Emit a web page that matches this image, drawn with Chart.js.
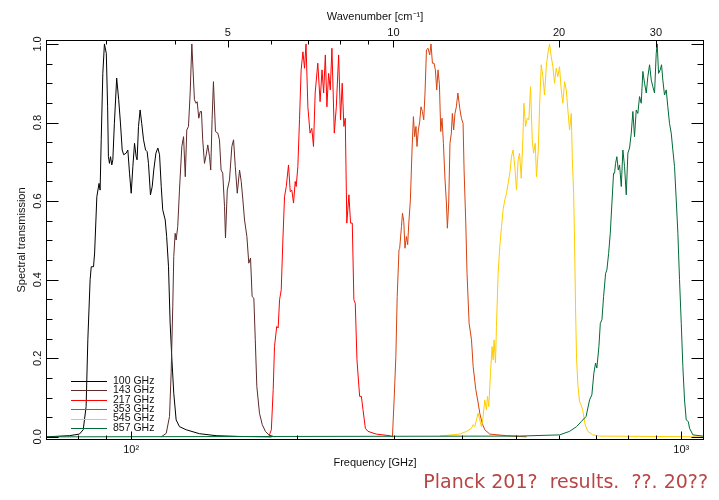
<!DOCTYPE html>
<html>
<head>
<meta charset="utf-8">
<title>HFI spectral transmission</title>
<script src="https://cdn.jsdelivr.net/npm/chart.js@4.4.1/dist/chart.umd.min.js"></script>
<style>
  html, body { margin: 0; padding: 0; background: #fff; }
  #wrap { width: 719px; height: 500px; }
</style>
</head>
<body>
<div id="wrap"><canvas id="bands" width="719" height="500"></canvas></div>
<script>
// channels and line colours
const bandNames = ['100 GHz', '143 GHz', '217 GHz', '353 GHz', '545 GHz', '857 GHz'];
const bandColors = ['#000000', '#5e2a2a', '#ff0000', '#d5420f', '#ffcc00', '#006a35'];

// frequency [GHz] / normalised transmission for each channel
const freq100 = [70, 77.2, 80.5, 81.8, 82.8, 83.4, 84.2, 84.6, 85.4, 85.8, 86.6, 87.4, 87.8, 88.2, 88.8, 89.4, 90.1, 90.6, 90.9, 91.3, 91.7, 92.2, 92.6, 93.2, 94.1, 94.9, 95.6, 96.3, 96.9, 97.9, 98.6, 99.3, 100.0, 100.7, 101.4, 102.1, 102.5, 103.1, 103.8, 104.5, 105.3, 106.2, 106.9, 107.5, 108.4, 109.2, 109.9, 110.9, 111.8, 112.6, 113.4, 114.1, 115.3, 116.0, 116.9, 117.7, 118.5, 119.5, 120.7, 122.4, 125.9, 133.1, 142.7, 157.4, 180];
const trans100 = [0, 0.003, 0.007, 0.018, 0.077, 0.247, 0.40, 0.433, 0.433, 0.468, 0.611, 0.645, 0.628, 0.756, 0.925, 1.0, 0.976, 0.840, 0.713, 0.696, 0.713, 0.692, 0.705, 0.798, 0.913, 0.858, 0.799, 0.730, 0.718, 0.722, 0.730, 0.671, 0.620, 0.688, 0.747, 0.713, 0.705, 0.790, 0.832, 0.798, 0.756, 0.730, 0.726, 0.696, 0.616, 0.637, 0.679, 0.722, 0.735, 0.718, 0.637, 0.578, 0.552, 0.510, 0.433, 0.290, 0.204, 0.111, 0.043, 0.026, 0.018, 0.008, 0.003, 0.001, 0];

const freq143 = [113.4, 115.8, 117.4, 118.2, 119.0, 119.5, 120.2, 120.7, 121.5, 122.4, 123.6, 124.5, 125.4, 126.2, 127.1, 128.0, 128.9, 130.3, 131.2, 131.8, 132.7, 133.5, 134.2, 134.9, 135.9, 136.9, 137.8, 138.8, 139.5, 140.3, 141.1, 142.3, 143.7, 144.7, 145.7, 146.7, 147.8, 148.4, 149.5, 150.9, 152.4, 153.5, 154.6, 155.9, 157.4, 158.5, 159.6, 160.7, 162.3, 163.6, 164.8, 165.9, 167.1, 168.1, 169.2, 171.1, 173.1, 175.4, 177.9, 182.2];
const trans143 = [0, 0.009, 0.052, 0.163, 0.331, 0.459, 0.518, 0.501, 0.535, 0.628, 0.739, 0.764, 0.662, 0.781, 0.790, 0.875, 1.0, 0.858, 0.849, 0.853, 0.811, 0.828, 0.828, 0.756, 0.696, 0.718, 0.743, 0.713, 0.679, 0.807, 0.904, 0.777, 0.773, 0.756, 0.679, 0.671, 0.586, 0.506, 0.628, 0.654, 0.739, 0.756, 0.688, 0.620, 0.679, 0.650, 0.603, 0.552, 0.510, 0.442, 0.455, 0.357, 0.353, 0.247, 0.128, 0.060, 0.031, 0.014, 0.005, 0];

const freq217 = [177.9, 179.8, 181.2, 182.2, 183.9, 185.0, 186.1, 187.4, 188.7, 190.0, 191.4, 193.2, 194.6, 195.9, 197.3, 198.7, 199.5, 200.9, 202.3, 203.7, 205.2, 206.6, 207.9, 209.5, 211.4, 213.0, 214.5, 216.0, 218.4, 220.5, 222.3, 223.8, 225.4, 226.9, 228.5, 230.1, 231.7, 234.0, 236.0, 238.3, 240.2, 241.9, 243.6, 245.0, 246.6, 248.8, 250.5, 252.3, 254.0, 255.5, 257.3, 260.2, 262.1, 263.9, 266.5, 269.4, 279.0, 295.0, 299.0];
const trans217 = [0, 0.018, 0.120, 0.230, 0.281, 0.277, 0.349, 0.374, 0.501, 0.611, 0.637, 0.692, 0.624, 0.628, 0.595, 0.650, 0.637, 0.688, 0.807, 0.934, 0.980, 0.938, 1.0, 0.840, 0.773, 0.785, 0.739, 0.875, 0.951, 0.853, 0.934, 0.875, 0.972, 0.840, 0.925, 0.883, 0.989, 0.773, 0.840, 0.972, 0.807, 0.900, 0.790, 0.811, 0.544, 0.616, 0.544, 0.544, 0.349, 0.340, 0.196, 0.103, 0.103, 0.069, 0.022, 0.014, 0.007, 0.003, 0];

const freq353 = [298.5, 300.6, 302.8, 304.5, 306.8, 307.7, 310.0, 311.3, 313.0, 314.6, 316.5, 318.2, 319.5, 321.8, 324.0, 325.9, 327.6, 329.4, 330.8, 332.7, 334.6, 336.4, 338.4, 340.3, 342.1, 344.2, 346.5, 348.9, 350.8, 352.9, 355.3, 357.3, 359.3, 361.3, 363.4, 365.4, 367.4, 369.5, 372.0, 374.2, 375.7, 377.8, 379.8, 382.0, 383.6, 385.7, 387.8, 390.1, 392.6, 395.7, 398.4, 401.2, 402.9, 405.8, 407.9, 411.5, 415.6, 418.5, 423.2, 427.4, 430.3, 434.5, 439.4, 448.7, 481.2, 523.4];
const trans353 = [0, 0.094, 0.204, 0.357, 0.476, 0.480, 0.535, 0.569, 0.548, 0.480, 0.510, 0.489, 0.539, 0.603, 0.730, 0.815, 0.764, 0.790, 0.739, 0.781, 0.802, 0.840, 0.828, 0.807, 0.875, 0.985, 0.989, 0.972, 1.0, 0.951, 0.951, 0.934, 0.883, 0.934, 0.896, 0.777, 0.811, 0.747, 0.654, 0.595, 0.531, 0.595, 0.747, 0.773, 0.823, 0.781, 0.823, 0.840, 0.875, 0.836, 0.811, 0.798, 0.679, 0.544, 0.416, 0.289, 0.247, 0.179, 0.120, 0.086, 0.060, 0.035, 0.018, 0.007, 0.003, 0];

const freq545 = [363.8, 395.7, 407.2, 415.6, 418.5, 421.3, 424.3, 427.3, 430.3, 433.3, 436.4, 439.4, 442.5, 444.4, 446.8, 450.0, 453.0, 455.0, 456.8, 459.5, 461.4, 464.6, 467.9, 471.3, 474.4, 477.8, 481.2, 484.5, 487.9, 491.3, 494.6, 498.3, 501.8, 505.2, 508.2, 511.8, 515.3, 517.5, 521.2, 524.9, 528.4, 532.2, 535.9, 538.9, 542.7, 545.6, 549.6, 552.6, 556.5, 560.3, 564.3, 568.3, 572.2, 576.2, 580.3, 584.3, 588.4, 592.5, 596.6, 600.8, 605.1, 609.2, 613.6, 618.0, 622.2, 626.6, 631.1, 633.9, 637.4, 639.8, 642.4, 645.2, 648.9, 653.4, 658.1, 662.6, 669.1, 676.4, 690.5, 710.5, 1100];
const trans545 = [0.002, 0.007, 0.014, 0.022, 0.031, 0.026, 0.043, 0.060, 0.043, 0.026, 0.052, 0.094, 0.069, 0.103, 0.077, 0.162, 0.230, 0.196, 0.247, 0.188, 0.281, 0.416, 0.484, 0.535, 0.578, 0.603, 0.620, 0.645, 0.671, 0.713, 0.730, 0.688, 0.628, 0.705, 0.722, 0.658, 0.756, 0.849, 0.790, 0.811, 0.807, 0.891, 0.756, 0.722, 0.747, 0.662, 0.730, 0.840, 0.947, 0.917, 0.870, 0.942, 0.976, 1.0, 0.968, 0.942, 0.900, 0.938, 0.917, 0.942, 0.883, 0.849, 0.904, 0.883, 0.832, 0.781, 0.823, 0.705, 0.620, 0.501, 0.331, 0.200, 0.130, 0.090, 0.080, 0.065, 0.030, 0.014, 0.005, 0.002, 0];

const freq857 = [70, 508.2, 600.8, 626.6, 645.2, 658.1, 671.5, 681.3, 687.9, 693.7, 698.6, 702.4, 708.5, 712.7, 717.5, 722.5, 728.6, 732.6, 737.9, 743.0, 748.1, 753.3, 756.5, 759.6, 763.8, 768.3, 772.5, 778.0, 783.3, 788.8, 794.4, 799.8, 805.4, 811.2, 816.7, 822.4, 828.3, 833.9, 839.9, 845.8, 851.6, 857.6, 863.8, 869.6, 875.8, 882.1, 888.0, 894.3, 900.6, 904.4, 909.4, 915.9, 920.9, 925.9, 932.4, 939.1, 945.4, 952.1, 959.0, 965.5, 972.3, 979.3, 986.1, 992.9, 1000.1, 1006.8, 1013.9, 1021.2, 1030.0, 1035.4, 1049.9, 1094.6, 1100];
const trans857 = [0, 0.002, 0.005, 0.014, 0.026, 0.039, 0.052, 0.094, 0.107, 0.162, 0.188, 0.175, 0.230, 0.289, 0.298, 0.357, 0.416, 0.425, 0.467, 0.518, 0.595, 0.671, 0.671, 0.696, 0.713, 0.679, 0.692, 0.637, 0.730, 0.688, 0.616, 0.722, 0.735, 0.773, 0.828, 0.764, 0.832, 0.823, 0.866, 0.849, 0.930, 0.900, 0.875, 0.917, 0.947, 0.908, 0.891, 0.875, 0.976, 1.0, 0.925, 0.934, 0.947, 0.908, 0.870, 0.883, 0.840, 0.798, 0.773, 0.730, 0.688, 0.603, 0.518, 0.400, 0.289, 0.179, 0.094, 0.043, 0.039, 0.022, 0.005, 0.002, 0];

// axis ticks
const freqTicks = [80, 90, 100, 200, 300, 400, 500, 600, 700, 800, 900, 1000];
const freqMajor = [100, 1000];
const freqLabels = ['10²', '10³'];
const waveTicks = [3, 4, 5, 6, 7, 8, 9, 10, 20, 30];
const waveMajor = [5, 10, 20, 30];
const transTicks = [0, 0.2, 0.4, 0.6, 0.8, 1.0];

const GHZ_PER_WAVENUMBER = 29.9792458;
const fMin = 70, fMax = 1100;
const tMin = -0.008, tMax = 1.01;

const textFont = 'Liberation Sans, Arial, sans-serif';
const ink = '#111';

const freqs = [freq100, freq143, freq217, freq353, freq545, freq857];
const trans = [trans100, trans143, trans217, trans353, trans545, trans857];

const datasets = bandNames.map((name, i) => ({
  label: name,
  data: freqs[i].map((f, j) => ({ x: f, y: trans[i][j] })),
  borderColor: bandColors[i],
  borderWidth: 1,
  pointRadius: 0,
  tension: 0,
  fill: false,
  order: bandNames.length - i   // higher channels drawn over lower ones
}));

// IDL-style box: inward ticks on all four sides, legend and footer
const axisFrame = {
  id: 'axisFrame',
  afterDraw(chart) {
    const { ctx, chartArea: area } = chart;
    const sx = chart.scales.x, st = chart.scales.xTop, sy = chart.scales.y;
    const L = Math.round(area.left) + 0.5, R = Math.round(area.right) - 0.5;
    const T = Math.round(area.top) + 0.5, B = Math.round(area.bottom) - 0.5;

    ctx.save();
    ctx.strokeStyle = '#000';
    ctx.lineWidth = 1;
    ctx.strokeRect(L, T, R - L, B - T);

    ctx.beginPath();
    freqTicks.forEach(v => {
      const px = Math.round(sx.getPixelForValue(v)) + 0.5;
      const len = freqMajor.includes(v) ? 8 : 4;
      ctx.moveTo(px, B); ctx.lineTo(px, B - len);
    });
    waveTicks.forEach(v => {
      const px = Math.round(st.getPixelForValue(v)) + 0.5;
      const len = waveMajor.includes(v) ? 7 : 4;
      ctx.moveTo(px, T); ctx.lineTo(px, T + len);
    });
    for (let k = 0; k <= 20; k++) {
      const py = Math.round(sy.getPixelForValue(k * 0.05)) + 0.5;
      const len = k % 4 === 0 ? 12 : 6;
      ctx.moveTo(L, py); ctx.lineTo(L + len, py);
      ctx.moveTo(R, py); ctx.lineTo(R - len, py);
    }
    ctx.stroke();

    // legend, bottom left inside the box
    ctx.font = '10.5px ' + textFont;
    ctx.textAlign = 'left';
    ctx.textBaseline = 'middle';
    bandNames.forEach((name, i) => {
      const y = area.bottom - 12 - (bandNames.length - 1 - i) * 9.45;
      ctx.strokeStyle = bandColors[i];
      ctx.beginPath();
      ctx.moveTo(area.left + 25, Math.round(y) + 0.5);
      ctx.lineTo(area.left + 61, Math.round(y) + 0.5);
      ctx.stroke();
      ctx.fillStyle = ink;
      ctx.fillText(name, area.left + 67, y);
    });

    ctx.font = '19px "DejaVu Sans", sans-serif';
    ctx.fillStyle = '#b84545';
    ctx.textAlign = 'right';
    ctx.textBaseline = 'alphabetic';
    ctx.fillText('Planck 201?  results.  ??. 20??', 708, 488);
    ctx.restore();
  }
};

new Chart(document.getElementById('bands'), {
  type: 'line',
  data: { datasets },
  options: {
    responsive: false,
    animation: false,
    devicePixelRatio: 1,
    layout: { padding: 0 },
    plugins: { legend: { display: false }, tooltip: { enabled: false } },
    scales: {
      x: {
        type: 'logarithmic',
        position: 'bottom',
        min: fMin,
        max: fMax,
        afterBuildTicks: s => { s.ticks = freqTicks.map(v => ({ value: v })); },
        afterFit: s => { s.height = 60; },
        grid: { display: false, drawTicks: false },
        border: { display: false },
        ticks: {
          autoSkip: false, maxRotation: 0, padding: 3, color: ink,
          font: { family: textFont, size: 11 },
          callback: v => { const k = freqMajor.indexOf(v); return k < 0 ? '' : freqLabels[k]; }
        },
        title: {
          display: true, text: 'Frequency [GHz]', color: ink,
          font: { family: textFont, size: 11 }, padding: { top: 0, bottom: 30 }
        }
      },
      xTop: {
        type: 'logarithmic',
        position: 'top',
        min: fMin / GHZ_PER_WAVENUMBER,
        max: fMax / GHZ_PER_WAVENUMBER,
        afterBuildTicks: s => { s.ticks = waveTicks.map(v => ({ value: v })); },
        afterFit: s => { s.height = 40; },
        grid: { display: false, drawTicks: false },
        border: { display: false },
        ticks: {
          autoSkip: false, maxRotation: 0, padding: 0, color: ink,
          font: { family: textFont, size: 11 },
          callback: v => waveMajor.includes(v) ? String(v) : ''
        },
        title: {
          display: true, text: 'Wavenumber [cm⁻¹]', color: ink,
          font: { family: textFont, size: 11 }, padding: { top: 10, bottom: 0 }
        }
      },
      y: {
        type: 'linear',
        position: 'left',
        min: tMin,
        max: tMax,
        afterBuildTicks: s => { s.ticks = transTicks.map(v => ({ value: v })); },
        afterFit: s => { s.width = 46; },
        grid: { display: false, drawTicks: false },
        border: { display: false },
        ticks: {
          minRotation: 90, maxRotation: 90, crossAlign: 'center', padding: 0, color: ink,
          font: { family: textFont, size: 11 },
          callback: v => v.toFixed(1)
        },
        title: {
          display: true, text: 'Spectral transmission', color: ink,
          font: { family: textFont, size: 11 }, padding: { top: 15, bottom: 0 }
        }
      },
      yRight: {
        type: 'linear',
        position: 'right',
        min: tMin,
        max: tMax,
        afterFit: s => { s.width = 15; },
        grid: { display: false, drawTicks: false },
        border: { display: false },
        ticks: { display: false }
      }
    }
  },
  plugins: [axisFrame]
});
</script>
</body>
</html>
